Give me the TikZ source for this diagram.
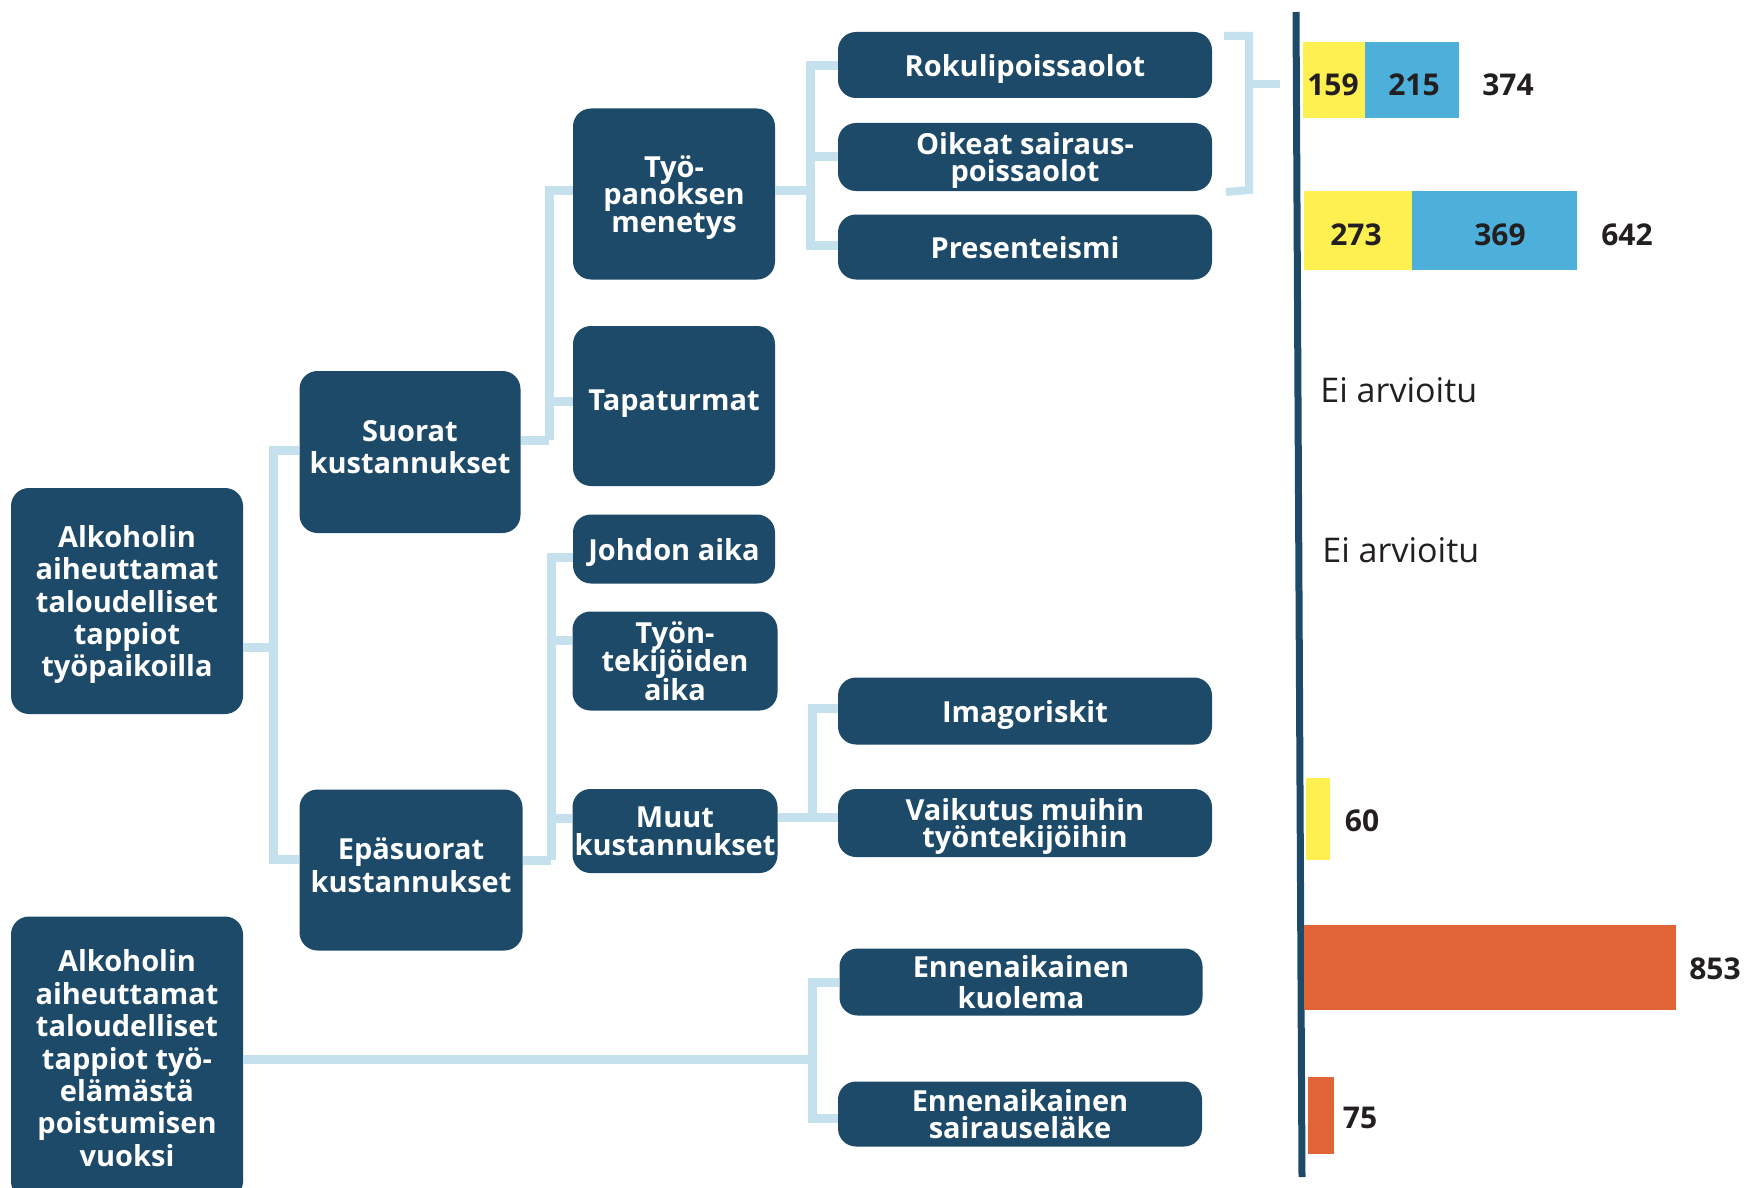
\documentclass[tikz,border=0pt]{standalone}
\usepackage{fontspec}
\setmainfont{Open Sans}
\definecolor{navy}{HTML}{1D4A68}
\definecolor{lblue}{HTML}{C5E1EE}
\definecolor{yelbar}{HTML}{FEF050}
\definecolor{blubar}{HTML}{4DB0DA}
\definecolor{orabar}{HTML}{E06436}
\definecolor{numc}{HTML}{231F20}
\setlength{\lineskiplimit}{-30pt}
\begin{document}
\begin{tikzpicture}[x=0.5pt,y=-0.5pt,
  box/.style={fill=navy, rounded corners=9pt, text=white, align=center, inner sep=0pt,
    text depth=0pt,
    font=\bfseries\fontsize{14.5}{16.2}\selectfont},
  tight/.style={font=\bfseries\fontsize{14.5}{13.8}\selectfont},
  midsp/.style={font=\bfseries\fontsize{14.5}{14.4}\selectfont},
  widesp/.style={font=\bfseries\fontsize{14.5}{15.4}\selectfont},
  conn/.style={draw=lblue, line width=4.5pt},
  num/.style={text=numc, font=\bfseries\fontsize{15}{16}\selectfont, inner sep=0pt},
  ei/.style={text=numc, font=\fontsize{17}{19}\selectfont, inner sep=0pt, anchor=west}]
\useasboundingbox (0,0) rectangle (1750,1188);
\fill[white] (0,0) rectangle (1750,1188);

% boxes
\node[box, minimum width=116pt, minimum height=113pt] (a1) at (127,601)
  {Alkoholin\\aiheuttamat\\taloudelliset\\tappiot\\työpaikoilla};
\node[box, minimum width=116pt, minimum height=141.5pt] (a2) at (127,1058)
  {Alkoholin\\aiheuttamat\\taloudelliset\\tappiot työ-\\elämästä\\poistumisen\\vuoksi};
\node[box, text depth=5pt, minimum width=110.5pt, minimum height=81pt] (sk) at (410,452) {Suorat\\kustannukset};
\node[box, text depth=5pt, minimum width=111.5pt, minimum height=80.5pt] (ek) at (411,870) {Epäsuorat\\kustannukset};
\node[box, tight, minimum width=101pt, minimum height=85.5pt] (tp) at (674,194) {Työ-\\panoksen\\menetys};
\node[box, text depth=6pt, minimum width=101pt, minimum height=80pt] (tap) at (674,406) {Tapaturmat};
\node[box, minimum width=101pt, minimum height=34.5pt] (jo) at (674,549) {Johdon aika};
\node[box, midsp, minimum width=102.5pt, minimum height=49.5pt] (tt) at (675,661) {Työn-\\tekijöiden\\aika};
\node[box, tight, minimum width=102.5pt, minimum height=42pt] (mu) at (675,831) {Muut\\kustannukset};
\node[box, minimum width=187pt, minimum height=33pt] (ro) at (1025,65) {Rokulipoissaolot};
\node[box, tight, minimum width=187pt, minimum height=34pt] (oi) at (1025,157) {Oikeat sairaus-\\poissaolot};
\node[box, minimum width=187pt, minimum height=32.5pt] (pr) at (1025,247) {Presenteismi};
\node[box, minimum width=187pt, minimum height=33.5pt] (im) at (1025,711) {Imagoriskit};
\node[box, tight, minimum width=187pt, minimum height=34pt] (va) at (1025,823) {Vaikutus muihin\\työntekijöihin};
\node[box, widesp, minimum width=181.5pt, minimum height=33.5pt] (ku) at (1021,982) {Ennenaikainen\\kuolema};
\node[box, tight, minimum width=182pt, minimum height=32.5pt] (se) at (1020,1114) {Ennenaikainen\\sairauseläke};

% bus coordinates
\coordinate (j1) at (273,647);
\coordinate (b1t) at (273,450);
\coordinate (b1b) at (273,859);
\coordinate (j2) at (549,440);
\coordinate (b2t) at (549,190);
\coordinate (b2m) at (549,401);
\coordinate (j3) at (551,860);
\coordinate (b3t) at (551,557);
\coordinate (b3m) at (551,640);
\coordinate (b3n) at (551,818);
\coordinate (b4t) at (810,66);
\coordinate (b4m) at (810,156);
\coordinate (b4j) at (810,190);
\coordinate (b4b) at (810,245);
\coordinate (b5t) at (812,708);
\coordinate (b5b) at (812,817);
\coordinate (b6t) at (812,982);
\coordinate (b6j) at (812,1059);
\coordinate (b6b) at (812,1118);

% connectors
\draw[conn] (a1.east |- j1) -- (j1);
\draw[conn] (sk.west |- b1t) -- (b1t) -- (b1b) -- (ek.west |- b1b);
\draw[conn] (sk.east |- j2) -- (j2);
\draw[conn] (tp.west |- b2t) -- (b2t) -- (j2);
\draw[conn] (b2m) -- (tap.west |- b2m);
\draw[conn] (ek.east |- j3) -- (j3);
\draw[conn] (jo.west |- b3t) -- (b3t) -- (j3);
\draw[conn] (b3m) -- (tt.west |- b3m);
\draw[conn] (b3n) -- (mu.west |- b3n);
\draw[conn] (tp.east |- b4j) -- (b4j);
\draw[conn] (ro.west |- b4t) -- (b4t) -- (b4b) -- (pr.west |- b4b);
\draw[conn] (b4m) -- (oi.west |- b4m);
\draw[conn] (mu.east |- b5b) -- (b5b);
\draw[conn] (im.west |- b5t) -- (b5t) -- (b5b) -- (va.west |- b5b);
\draw[conn] (a2.east |- b6j) -- (b6j);
\draw[conn] (ku.west |- b6t) -- (b6t) -- (b6b) -- (se.west |- b6b);

% bracket
\coordinate (br1) at (1224,36);
\coordinate (br2) at (1249,36);
\coordinate (br3) at (1249,190);
\coordinate (br4) at (1226,192);
\coordinate (br5) at (1249,84);
\coordinate (br6) at (1280,84);
\draw[lblue, line width=4pt] (br1) -- (br2) -- (br3) -- (br4);
\draw[lblue, line width=4pt] (br5) -- (br6);

% axis
\coordinate (ax1) at (1296,12);
\coordinate (ax2) at (1302,1177);
\draw[navy, line width=3.5pt] (ax1) -- (ax2);

% bars
\fill[yelbar] (1303,42) rectangle (1365,118);
\fill[blubar] (1365,42) rectangle (1459,118);
\fill[yelbar] (1304,191) rectangle (1412,270);
\fill[blubar] (1412,191) rectangle (1577,270);
\fill[yelbar] (1306,778) rectangle (1330,860);
\fill[orabar] (1304,925) rectangle (1676,1010);
\fill[orabar] (1308,1077) rectangle (1334,1154);

% labels
\node[num] (n159) at (1333,85) {159};
\node[num] (n215) at (1414,85) {215};
\node[num] (n374) at (1508,85) {374};
\node[num] (n273) at (1356,235) {273};
\node[num] (n369) at (1500,235) {369};
\node[num] (n642) at (1627,235) {642};
\node[num] (n60) at (1362,821) {60};
\node[num] (n853) at (1715,969) {853};
\node[num] (n75) at (1360,1118) {75};
\node[ei] (e1) at (1320,390) {Ei arvioitu};
\node[ei] (e2) at (1322,550) {Ei arvioitu};
\end{tikzpicture}
\end{document}
